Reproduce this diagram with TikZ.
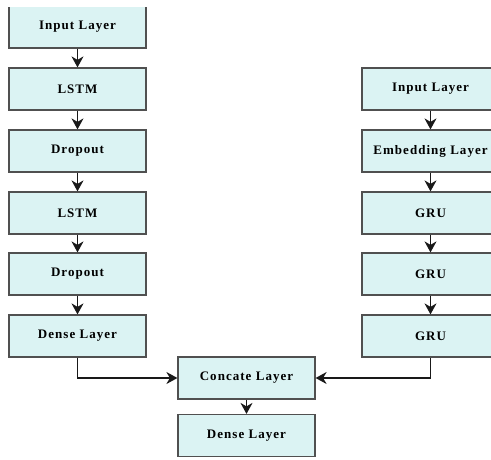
\documentclass[tikz,border=0pt]{standalone}
\usepackage{fontspec}
\usepackage{tikz}
\usetikzlibrary{arrows.meta}
\newfontfamily\layerfont[LetterSpace=8]{Liberation Serif}
\definecolor{layercyan}{RGB}{219,243,243}
\definecolor{layeredge}{RGB}{80,80,80}
\tikzset{
	layerbox/.style={draw=layeredge, fill=layercyan, line width=1.2pt,
		minimum width=137pt, minimum height=42pt, inner sep=0pt,
		font=\layerfont\bfseries\fontsize{13}{15}\selectfont},
	flowarrow/.style={-{Stealth[length=11pt,width=12pt,inset=3.5pt]}, line width=1.4pt, color=black!90}
}
\begin{document}
\begin{tikzpicture}[x=1pt,y=-1pt]
	
	\useasboundingbox (0,0) rectangle (491,459);
	\clip (0,7) rectangle (491,459);
	
	% left branch
	\node[layerbox] (inL) at (77.5,27) {Input Layer};
	\node[layerbox] (lstmA) at (77.5,89) {LSTM};
	\node[layerbox] (dropA) at (77.5,151) {Dropout};
	\node[layerbox] (lstmB) at (77.5,213) {LSTM};
	\node[layerbox] (dropB) at (77.5,274) {Dropout};
	\node[layerbox] (denseL) at (77.5,336) {Dense Layer};
	
	% right branch
	\node[layerbox] (inR) at (430.5,89) {Input Layer};
	\node[layerbox] (embed) at (430.5,151) {Embedding Layer};
	\node[layerbox] (gruA) at (430.5,213) {GRU};
	\node[layerbox] (gruB) at (430.5,274) {GRU};
	\node[layerbox] (gruC) at (430.5,336) {GRU};
	
	% merge
	\node[layerbox] (concat) at (246.5,378) {Concate Layer};
	\node[layerbox] (denseOut) at (246.5,435.5) {Dense Layer};
	
	\draw[flowarrow] (inL) -- (lstmA);
	\draw[flowarrow] (lstmA) -- (dropA);
	\draw[flowarrow] (dropA) -- (lstmB);
	\draw[flowarrow] (lstmB) -- (dropB);
	\draw[flowarrow] (dropB) -- (denseL);
	
	\draw[flowarrow] (inR) -- (embed);
	\draw[flowarrow] (embed) -- (gruA);
	\draw[flowarrow] (gruA) -- (gruB);
	\draw[flowarrow] (gruB) -- (gruC);
	
	\draw[flowarrow] (denseL.south) |- (concat.west);
	\draw[flowarrow] (gruC.south) |- (concat.east);
	\draw[flowarrow] (concat) -- (denseOut);
	
\end{tikzpicture}
\end{document}
